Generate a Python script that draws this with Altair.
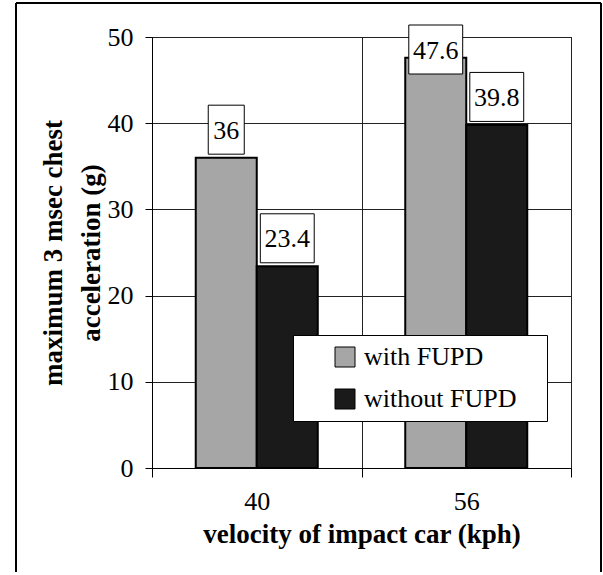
import altair as alt
import pandas as pd

speeds = ["40", "56"]
series = ["with FUPD", "without FUPD"]
with_fupd = [36, 47.6]
without_fupd = [23.4, 39.8]
y_ticks = [0, 10, 20, 30, 40, 50]

rows = []
for i, s in enumerate(speeds):
    for name, vals in ((series[0], with_fupd), (series[1], without_fupd)):
        v = vals[i]
        rows.append({"speed": s, "series": name, "value": v, "label": f"{v:g}"})
df = pd.DataFrame(rows)

W, H = 419, 431
FONT = "Liberation Serif"

x_enc = alt.X("speed:N", sort=speeds,
              scale=alt.Scale(paddingInner=0, paddingOuter=0),
              axis=alt.Axis(title="velocity of impact car (kph)", labelAngle=0,
                            tickBand="extent", grid=True, tickSize=9,
                            labelPadding=11, titlePadding=7))
xoff = alt.XOffset("series:N", sort=series,
                   scale=alt.Scale(domain=series, paddingInner=0, paddingOuter=0.717))

base = alt.Chart(df)

bars = base.mark_bar(stroke="black", strokeWidth=2).encode(
    x=x_enc,
    xOffset=xoff,
    y=alt.Y("value:Q", scale=alt.Scale(domain=[0, 50], nice=False),
            axis=alt.Axis(title=["maximum 3 msec chest", "acceleration (g)"],
                          values=y_ticks, tickSize=7, labelPadding=12,
                          titlePadding=2, titleLineHeight=38, grid=True)),
    color=alt.Color("series:N", sort=series,
                    scale=alt.Scale(domain=series, range=["#a6a6a6", "#1a1a1a"]),
                    legend=alt.Legend(title="\u00a0", titleOrient="right", titlePadding=22,
                                      titleFontSize=10,
                                      orient="none", legendX=141, legendY=298,
                                      fillColor="white", strokeColor="black",
                                      padding=9, symbolOffset=30, symbolType="square",
                                      symbolSize=400, symbolStrokeColor="black",
                                      symbolStrokeWidth=1, symbolOpacity=1,
                                      labelFont=FONT, labelFontSize=26, labelColor="black",
                                      labelOffset=6, rowPadding=16, labelLimit=400)),
)

lab = base.transform_calculate(
    ly="min(datum.value, 45.3)",
    kind="length(datum.label) > 2 ? 'long' : 'short'",
)

boxes = lab.mark_point(filled=True, fill="white", stroke="black", strokeWidth=1,
                       opacity=1, size=2401, yOffset=-28).encode(
    x=alt.X("speed:N", sort=speeds),
    xOffset=xoff,
    y=alt.Y("ly:Q"),
    shape=alt.Shape("kind:N", scale=alt.Scale(
        domain=["short", "long"],
        range=["M-0.735,-1H0.735V1H-0.735Z", "M-1.1,-1H1.1V1H-1.1Z"]), legend=None),
)

texts = lab.mark_text(font=FONT, fontSize=26, color="black", baseline="middle",
                      yOffset=-27).encode(
    x=alt.X("speed:N", sort=speeds),
    xOffset=xoff,
    y=alt.Y("ly:Q"),
    text="label:N",
)

frame_data = alt.Data(values=[{"k": 0}])
left_rule = alt.Chart(frame_data).mark_rule(color="black", strokeWidth=2).encode(
    x=alt.value(-136), y=alt.value(-34), y2=alt.value(H + 104))
right_rule = alt.Chart(frame_data).mark_rule(color="black", strokeWidth=2).encode(
    x=alt.value(W + 30), y=alt.value(-34), y2=alt.value(H + 104))
top_rule = alt.Chart(frame_data).mark_rule(color="black", strokeWidth=2).encode(
    x=alt.value(-136), x2=alt.value(W + 30), y=alt.value(-34))

chart = alt.layer(bars, boxes, texts, left_rule, right_rule, top_rule).properties(
    width=W, height=H,
    padding={"left": 15, "top": 2, "right": 0, "bottom": 0},
    background="white",
).configure_view(stroke="black", strokeWidth=1).configure_axis(
    labelFont=FONT, labelFontSize=26, labelColor="black",
    titleFont=FONT, titleFontSize=27, titleFontWeight="bold", titleColor="black",
    domainColor="black", tickColor="black", gridColor="#222222", gridWidth=1,
)

chart.save("out.html", embed_options={"renderer": "svg", "actions": False})
